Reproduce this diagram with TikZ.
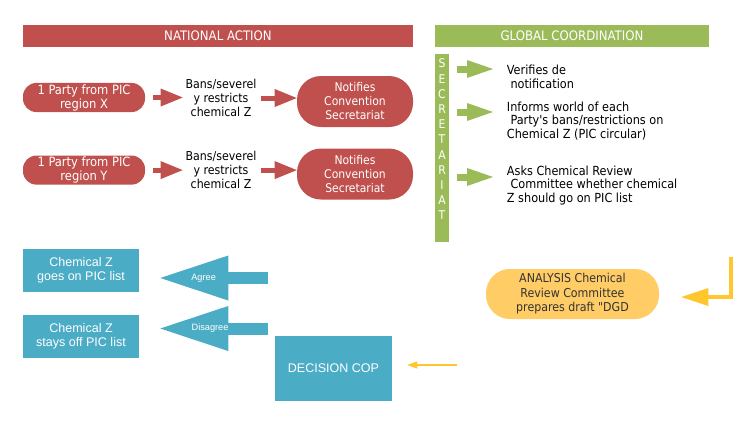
\documentclass[tikz,border=0pt]{standalone}
\usepackage{fontspec}
\setmainfont{DejaVu Sans Condensed}[Ligatures=TeXOff]
\newfontfamily\arialfont{Liberation Sans}
\usepackage{tikz}
\usetikzlibrary{arrows.meta,positioning}
\definecolor{ActionRed}{HTML}{C0504D}
\definecolor{CoordGreen}{HTML}{9BBB59}
\definecolor{DecisionBlue}{HTML}{4BACC6}
\definecolor{AnalysisGold}{HTML}{FFCC66}
\definecolor{ArrowGold}{HTML}{FFC62E}
\tikzset{
  headerbar/.style={
    text=white,
    font=\fontsize{9.8}{11}\selectfont,
    minimum height=16.5pt,
    inner sep=0pt
  },
  secbar/.style={
    fill=CoordGreen,
    minimum width=10.5pt,
    inner sep=0pt
  },
  sectext/.style={
    anchor=north,
    align=center,
    text=white,
    inner sep=3.5pt,
    font=\fontsize{9}{11.4}\selectfont
  },
  partypill/.style={
    fill=ActionRed,
    text=white,
    align=center,
    rounded corners=10pt,
    minimum width=91.5pt,
    minimum height=21.75pt,
    inner sep=1pt,
    font=\fontsize{9.6}{10.5}\selectfont
  },
  notifypill/.style={
    fill=ActionRed,
    text=white,
    align=center,
    rounded corners=18pt,
    minimum width=87pt,
    minimum height=38.25pt,
    inner sep=1pt,
    font=\fontsize{9}{10.5}\selectfont
  },
  plaintext/.style={
    align=center,
    inner sep=2pt,
    font=\fontsize{9.2}{10.5}\selectfont
  },
  infotext/.style={
    align=left,
    anchor=west,
    inner sep=2pt,
    font=\fontsize{9.4}{10.1}\selectfont
  },
  bluebox/.style={
    fill=DecisionBlue,
    text=white,
    align=center,
    minimum width=87pt,
    minimum height=32.25pt,
    font=\arialfont\fontsize{9.4}{10.5}\selectfont
  },
  analysispill/.style={
    fill=AnalysisGold,
    text=black!80,
    align=center,
    rounded corners=18pt,
    minimum width=129.75pt,
    minimum height=37.5pt,
    inner sep=1pt,
    font=\fontsize{9.2}{10.8}\selectfont
  },
  arrowlabel/.style={
    text=white,
    inner sep=0pt,
    font=\arialfont\fontsize{6.9}{7}\selectfont
  },
  redarrow/.style={
    ActionRed,
    line width=3.75pt,
    -{Triangle[length=16.5pt, width=13.5pt, line width=0pt]}
  },
  greenarrow/.style={
    CoordGreen,
    line width=5.25pt,
    shorten <=6pt,
    shorten >=8.25pt,
    -{Triangle[length=19.5pt, width=13.5pt, line width=0pt]}
  },
  bluearrow/.style={
    DecisionBlue,
    line width=9pt,
    shorten >=15.75pt,
    -{Triangle[length=51pt, width=33.75pt, line width=0pt]}
  },
  goldarrow/.style={
    ArrowGold,
    line width=3pt,
    shorten >=16.5pt,
    -{Triangle[length=20.25pt, width=13.5pt, line width=0pt]}
  },
  thingold/.style={
    ArrowGold,
    line width=1.5pt,
    shorten >=11.25pt,
    -{Triangle[length=7.5pt, width=5.5pt, line width=0pt]}
  }
}

\begin{document}
\begin{tikzpicture}[x=0.75pt, y=-0.75pt]
  \useasboundingbox (0,0) rectangle (750,426);
  % headers
  \node[headerbar, fill=ActionRed, minimum width=292.5pt] (national) at (218,36)
    {NATIONAL ACTION};
  \node[headerbar, fill=CoordGreen, minimum width=205.5pt] (global) at (572,36)
    {GLOBAL COORDINATION};
  \node[secbar, minimum height=141pt, anchor=north,
    label={[sectext]north:{S\\E\\C\\R\\E\\T\\A\\R\\I\\A\\T}}] (secretariat) at (442,54) {};
  % national action
  \node[partypill] (partyX) at (84,97.5) {1 Party from PIC\\region X};
  \node[plaintext] (bansX) at (221,98) {Bans/severel\\y restricts\\chemical Z};
  \node[notifypill] (notifyX) at (355,101.5) {Notifies\\Convention\\Secretariat};
  \node[partypill, below=32.25pt of partyX] (partyY) {1 Party from PIC\\region Y};
  \node[plaintext] (bansY) at (bansX |- partyY) {Bans/severel\\y restricts\\chemical Z};
  \node[notifypill, below=15.75pt of notifyX] (notifyY) {Notifies\\Convention\\Secretariat};
  \draw[redarrow, shorten <=6pt] (partyX) -- (partyX -| bansX.west);
  \draw[redarrow, shorten <=1.5pt] (bansX) -- (bansX -| notifyX.west);
  \draw[redarrow, shorten <=6pt] (partyY) -- (partyY -| bansY.west);
  \draw[redarrow, shorten <=1.5pt] (bansY) -- (bansY -| notifyY.west);
  % global coordination
  \node[infotext] (verify) at (504,77) {Verifies de\\\ notification};
  \node[infotext] (inform) at (504,121)
    {Informs world of each\\\ Party's bans/restrictions on\\Chemical Z (PIC circular)};
  \node[infotext] (askcrc) at (504,185.5)
    {Asks Chemical Review\\\ Committee whether chemical\\Z should go on PIC list};
  \draw[greenarrow] (secretariat.east |- 0,69) -- (verify.west |- 0,69);
  \draw[greenarrow] (secretariat.east |- 0,112) -- (inform.west |- 0,112);
  \draw[greenarrow] (secretariat.east |- 0,177) -- (askcrc.west |- 0,177);
  % decision
  \node[bluebox] (goesOn) at (81,270.5) {Chemical Z\\goes on PIC list};
  \node[bluebox] (staysOff) at (81,336) {Chemical Z\\stays off PIC list};
  \node[bluebox, minimum width=87.75pt, minimum height=48.75pt] (cop) at (333.5,368.5)
    {DECISION COP};
  \coordinate (agreeTail) at (268,278);
  \coordinate (disagreeTail) at (268,328.5);
  \draw[bluearrow] (agreeTail) -- (goesOn.east |- agreeTail)
    node[arrowlabel, pos=0.5] {Agree};
  \draw[bluearrow] (disagreeTail) -- (staysOff.east |- disagreeTail)
    node[arrowlabel, pos=0.45] {Disagree};
  % analysis
  \node[analysispill] (analysis) at (572.5,294)
    {ANALYSIS Chemical\\Review Committee\\prepares draft "DGD};
  \coordinate (loopTop) at (731,257);
  \coordinate (copFeed) at (457,365);
  \draw[goldarrow] (loopTop) |- ([yshift=-2.25pt]analysis.east);
  \draw[thingold] (copFeed) -- (cop.east |- copFeed);
\end{tikzpicture}
\end{document}
